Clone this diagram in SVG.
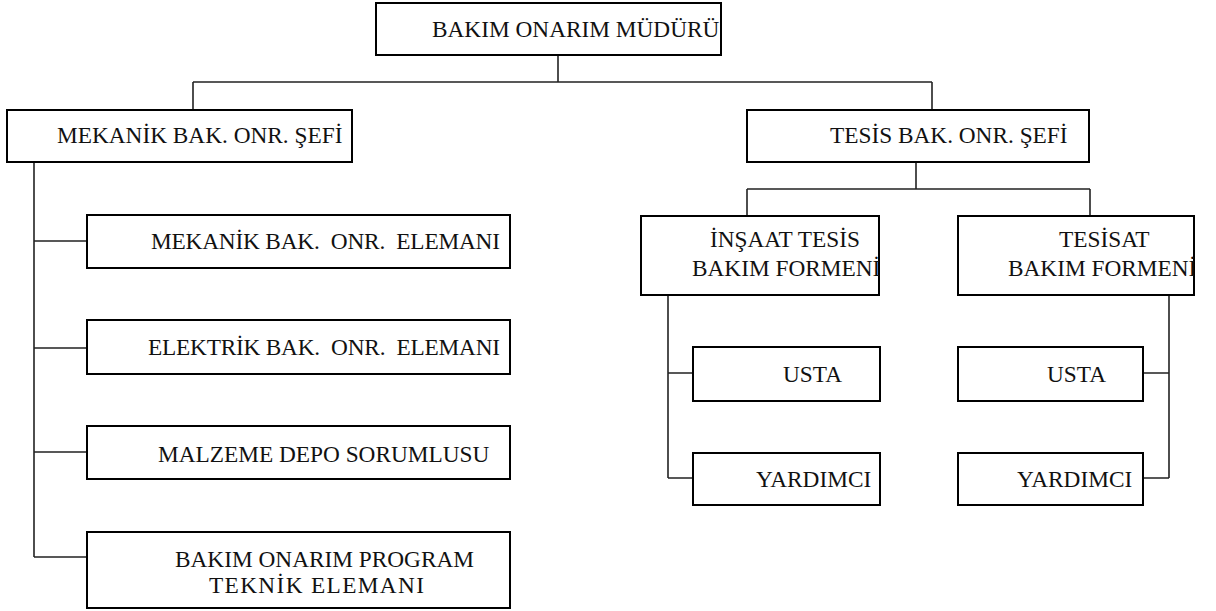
<svg xmlns="http://www.w3.org/2000/svg" width="1216" height="611" viewBox="0 0 1216 611">
<style>
.box{fill:#fff;stroke:#000;stroke-width:2}
.t{font-size:23.3px;fill:#111}
.c{fill:none;stroke:#222;stroke-width:1.6}
</style>
<defs>
<clipPath id="clipIns"><rect x="641" y="216" width="238" height="79"/></clipPath>
<clipPath id="clipTes"><rect x="958" y="216" width="236" height="79"/></clipPath>
<clipPath id="clipTop"><rect x="376" y="3" width="345" height="52"/></clipPath>
</defs>
<rect width="1216" height="611" fill="#fff"/>
<g id="connectors">
<path class="c" d="M558,55V82M193,82H932M193,82V110M932,82V110"/>
<path class="c" d="M34,162V557M34,241H87M34,348H87M34,452H87M34,557H87"/>
<path class="c" d="M916,162V189M747,189H1090M747,189V216M1090,189V216"/>
<path class="c" d="M668,295V478M668,373H693M668,478H693"/>
<path class="c" d="M1169,295V478M1143,373H1169M1143,478H1169"/>
</g>
<g font-family="'Liberation Serif', 'DejaVu Serif', serif">
<g id="mudur">
<rect class="box" x="376" y="3" width="345" height="52"/>
<text class="t" x="432" y="37" clip-path="url(#clipTop)">BAKIM ONARIM MÜDÜRÜ</text>
</g>
<g id="mekanik-sef">
<rect class="box" x="7" y="110" width="345" height="52"/>
<text class="t" x="57" y="143">MEKANİK BAK. ONR. ŞEFİ</text>
</g>
<g id="tesis-sef">
<rect class="box" x="747" y="110" width="342" height="52"/>
<text class="t" x="830" y="143">TESİS BAK. ONR. ŞEFİ</text>
</g>
<g id="mekanik-eleman">
<rect class="box" x="87" y="215" width="423" height="53"/>
<text class="t" x="151" y="249" xml:space="preserve" textLength="349" lengthAdjust="spacing">MEKANİK BAK.  ONR.  ELEMANI</text>
</g>
<g id="elektrik-eleman">
<rect class="box" x="87" y="320" width="423" height="54"/>
<text class="t" x="148" y="355" xml:space="preserve" textLength="352" lengthAdjust="spacing">ELEKTRİK BAK.  ONR.  ELEMANI</text>
</g>
<g id="malzeme">
<rect class="box" x="87" y="426" width="423" height="53"/>
<text class="t" x="158" y="462">MALZEME DEPO SORUMLUSU</text>
</g>
<g id="program">
<rect class="box" x="87" y="532" width="423" height="76"/>
<text class="t" x="175" y="567">BAKIM ONARIM PROGRAM</text>
<text class="t" x="209" y="593" textLength="215" lengthAdjust="spacing">TEKNİK ELEMANI</text>
</g>
<g id="insaat-formen">
<rect class="box" x="641" y="216" width="238" height="79"/>
<text class="t" x="710" y="247" clip-path="url(#clipIns)">İNŞAAT TESİS</text>
<text class="t" x="692" y="276" clip-path="url(#clipIns)">BAKIM FORMENİ</text>
</g>
<g id="tesisat-formen">
<rect class="box" x="958" y="216" width="236" height="79"/>
<text class="t" x="1059" y="247" clip-path="url(#clipTes)">TESİSAT</text>
<text class="t" x="1008" y="276" clip-path="url(#clipTes)">BAKIM FORMENİ</text>
</g>
<g id="usta-1">
<rect class="box" x="693" y="347" width="187" height="54"/>
<text class="t" x="783" y="382">USTA</text>
</g>
<g id="yardimci-1">
<rect class="box" x="693" y="453" width="187" height="52"/>
<text class="t" x="756" y="487">YARDIMCI</text>
</g>
<g id="usta-2">
<rect class="box" x="958" y="347" width="185" height="54"/>
<text class="t" x="1047" y="382">USTA</text>
</g>
<g id="yardimci-2">
<rect class="box" x="958" y="453" width="185" height="52"/>
<text class="t" x="1017" y="487">YARDIMCI</text>
</g>
</g>
</svg>
